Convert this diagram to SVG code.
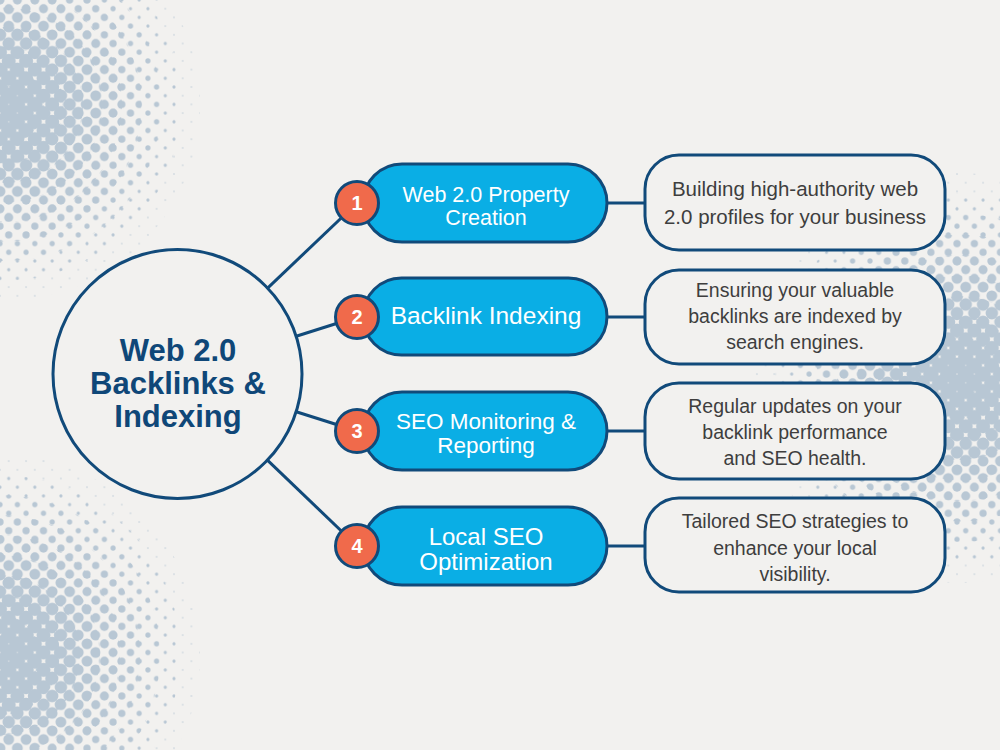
<svg xmlns="http://www.w3.org/2000/svg" width="1000" height="750" viewBox="0 0 1000 750">
<defs>
<style>
.dot{fill:#b8c7d4}
.conn{stroke:#114a7a;stroke-width:3;fill:none}
.pill{fill:#0aaee5;stroke:#114a7a;stroke-width:3}
.badge{fill:#f06a4b;stroke:#114a7a;stroke-width:3}
.box{fill:#f2f1ef;stroke:#114a7a;stroke-width:3}
.ptext{font-family:"Liberation Sans",Arial,sans-serif;fill:#ffffff;text-anchor:middle}
.btext{font-family:"Liberation Sans",Arial,sans-serif;fill:#ffffff;text-anchor:middle;font-weight:bold;font-size:20px}
.dtext{font-family:"Liberation Sans",Arial,sans-serif;fill:#3e3e3e;text-anchor:middle}
.title{font-family:"Liberation Sans",Arial,sans-serif;fill:#0f4778;text-anchor:middle;font-weight:bold;font-size:31px}
</style>
<pattern id="p1" patternUnits="userSpaceOnUse" width="17.4" height="17.4"><g class="dot"><circle cx="0" cy="0" r="8.2"/><circle cx="17.4" cy="0" r="8.2"/><circle cx="0" cy="17.4" r="8.2"/><circle cx="17.4" cy="17.4" r="8.2"/><circle cx="8.7" cy="8.7" r="8.2"/></g></pattern>
<pattern id="p2" patternUnits="userSpaceOnUse" width="17.4" height="17.4"><g class="dot"><circle cx="0" cy="0" r="7.6"/><circle cx="17.4" cy="0" r="7.6"/><circle cx="0" cy="17.4" r="7.6"/><circle cx="17.4" cy="17.4" r="7.6"/><circle cx="8.7" cy="8.7" r="7.6"/></g></pattern>
<pattern id="p3" patternUnits="userSpaceOnUse" width="17.4" height="17.4"><g class="dot"><circle cx="0" cy="0" r="7.0"/><circle cx="17.4" cy="0" r="7.0"/><circle cx="0" cy="17.4" r="7.0"/><circle cx="17.4" cy="17.4" r="7.0"/><circle cx="8.7" cy="8.7" r="7.0"/></g></pattern>
<pattern id="p4" patternUnits="userSpaceOnUse" width="17.4" height="17.4"><g class="dot"><circle cx="0" cy="0" r="6.2"/><circle cx="17.4" cy="0" r="6.2"/><circle cx="0" cy="17.4" r="6.2"/><circle cx="17.4" cy="17.4" r="6.2"/><circle cx="8.7" cy="8.7" r="6.2"/></g></pattern>
<pattern id="p5" patternUnits="userSpaceOnUse" width="17.4" height="17.4"><g class="dot"><circle cx="0" cy="0" r="5.4"/><circle cx="17.4" cy="0" r="5.4"/><circle cx="0" cy="17.4" r="5.4"/><circle cx="17.4" cy="17.4" r="5.4"/><circle cx="8.7" cy="8.7" r="5.4"/></g></pattern>
<pattern id="p6" patternUnits="userSpaceOnUse" width="17.4" height="17.4"><g class="dot"><circle cx="0" cy="0" r="4.5"/><circle cx="17.4" cy="0" r="4.5"/><circle cx="0" cy="17.4" r="4.5"/><circle cx="17.4" cy="17.4" r="4.5"/><circle cx="8.7" cy="8.7" r="4.5"/></g></pattern>
<pattern id="p7" patternUnits="userSpaceOnUse" width="17.4" height="17.4"><g class="dot"><circle cx="0" cy="0" r="3.6"/><circle cx="17.4" cy="0" r="3.6"/><circle cx="0" cy="17.4" r="3.6"/><circle cx="17.4" cy="17.4" r="3.6"/><circle cx="8.7" cy="8.7" r="3.6"/></g></pattern>
<pattern id="p8" patternUnits="userSpaceOnUse" width="17.4" height="17.4"><g class="dot"><circle cx="0" cy="0" r="2.6"/><circle cx="17.4" cy="0" r="2.6"/><circle cx="0" cy="17.4" r="2.6"/><circle cx="17.4" cy="17.4" r="2.6"/><circle cx="8.7" cy="8.7" r="2.6"/></g></pattern>
<pattern id="p9" patternUnits="userSpaceOnUse" width="17.4" height="17.4"><g class="dot"><circle cx="0" cy="0" r="1.6"/><circle cx="17.4" cy="0" r="1.6"/><circle cx="0" cy="17.4" r="1.6"/><circle cx="17.4" cy="17.4" r="1.6"/><circle cx="8.7" cy="8.7" r="1.6"/></g></pattern>
<pattern id="p10" patternUnits="userSpaceOnUse" width="17.4" height="17.4"><g class="dot"><circle cx="0" cy="0" r="0.7"/><circle cx="17.4" cy="0" r="0.7"/><circle cx="0" cy="17.4" r="0.7"/><circle cx="17.4" cy="17.4" r="0.7"/><circle cx="8.7" cy="8.7" r="0.7"/></g></pattern>
</defs>

<rect id="background" x="0" y="0" width="1000" height="750" fill="#f2f1ef"/>

<g id="halftone-top-left">
<circle cx="5" cy="105" r="195" fill="url(#p10)"/>
<circle cx="5" cy="105" r="175.5" fill="url(#p9)"/>
<circle cx="5" cy="105" r="156" fill="url(#p8)"/>
<circle cx="5" cy="105" r="136.5" fill="url(#p7)"/>
<circle cx="5" cy="105" r="117" fill="url(#p6)"/>
<circle cx="5" cy="105" r="97.5" fill="url(#p5)"/>
<circle cx="5" cy="105" r="78" fill="url(#p4)"/>
<circle cx="5" cy="105" r="58.5" fill="url(#p3)"/>
<circle cx="5" cy="105" r="39" fill="url(#p2)"/>
<circle cx="5" cy="105" r="19.5" fill="url(#p1)"/>
</g>
<g id="halftone-bottom-left">
<circle cx="0" cy="655" r="200" fill="url(#p10)"/>
<circle cx="0" cy="655" r="180" fill="url(#p9)"/>
<circle cx="0" cy="655" r="160" fill="url(#p8)"/>
<circle cx="0" cy="655" r="140" fill="url(#p7)"/>
<circle cx="0" cy="655" r="120" fill="url(#p6)"/>
<circle cx="0" cy="655" r="100" fill="url(#p5)"/>
<circle cx="0" cy="655" r="80" fill="url(#p4)"/>
<circle cx="0" cy="655" r="60" fill="url(#p3)"/>
<circle cx="0" cy="655" r="40" fill="url(#p2)"/>
<circle cx="0" cy="655" r="20" fill="url(#p1)"/>
</g>
<g id="halftone-right">
<circle cx="960" cy="378" r="205" fill="url(#p10)"/>
<circle cx="960" cy="378" r="184.5" fill="url(#p9)"/>
<circle cx="960" cy="378" r="164" fill="url(#p8)"/>
<circle cx="960" cy="378" r="143.5" fill="url(#p7)"/>
<circle cx="960" cy="378" r="123" fill="url(#p6)"/>
<circle cx="960" cy="378" r="102.5" fill="url(#p5)"/>
<circle cx="960" cy="378" r="82" fill="url(#p4)"/>
<circle cx="960" cy="378" r="61.5" fill="url(#p3)"/>
<circle cx="960" cy="378" r="41" fill="url(#p2)"/>
<circle cx="960" cy="378" r="20.5" fill="url(#p1)"/>
</g>

<g id="connectors">
<line class="conn" x1="267.6" y1="288.1" x2="357" y2="203"/>
<line class="conn" x1="296.2" y1="336.3" x2="357" y2="317"/>
<line class="conn" x1="296.2" y1="411.7" x2="357" y2="431"/>
<line class="conn" x1="267.4" y1="460.1" x2="357" y2="546"/>
<line class="conn" x1="600" y1="203" x2="647" y2="203"/>
<line class="conn" x1="600" y1="317" x2="647" y2="317"/>
<line class="conn" x1="600" y1="431" x2="647" y2="431"/>
<line class="conn" x1="600" y1="546" x2="647" y2="546"/>
</g>

<g id="center">
<circle cx="177.5" cy="374" r="124.5" fill="#f2f1ef" stroke="#114a7a" stroke-width="3"/>
<text class="title" x="178" y="361">Web 2.0</text>
<text class="title" x="178" y="394">Backlinks &amp;</text>
<text class="title" x="178" y="427">Indexing</text>
</g>

<g id="node1">
<rect class="pill" x="363" y="164" width="244" height="78" rx="39"/>
<text class="ptext" x="486" y="202" font-size="21.5">Web 2.0 Property</text>
<text class="ptext" x="486" y="225" font-size="21.5">Creation</text>
<circle class="badge" cx="357" cy="203" r="21.5"/>
<text class="btext" x="357" y="210">1</text>
</g>
<g id="node2">
<rect class="pill" x="363" y="278" width="244" height="77" rx="38.5"/>
<text class="ptext" x="486" y="324" font-size="24.5">Backlink Indexing</text>
<circle class="badge" cx="357" cy="317" r="21.5"/>
<text class="btext" x="357" y="324">2</text>
</g>
<g id="node3">
<rect class="pill" x="363" y="392" width="244" height="78" rx="39"/>
<text class="ptext" x="486" y="429" font-size="22.5">SEO Monitoring &amp;</text>
<text class="ptext" x="486" y="453" font-size="22.5">Reporting</text>
<circle class="badge" cx="357" cy="431" r="21.5"/>
<text class="btext" x="357" y="438">3</text>
</g>
<g id="node4">
<rect class="pill" x="363" y="507" width="244" height="78" rx="39"/>
<text class="ptext" x="486" y="545" font-size="24">Local SEO</text>
<text class="ptext" x="486" y="570" font-size="24">Optimization</text>
<circle class="badge" cx="357" cy="546" r="21.5"/>
<text class="btext" x="357" y="553">4</text>
</g>

<g id="desc1">
<rect class="box" x="645" y="155" width="300" height="95" rx="34"/>
<text class="dtext" x="795" y="196" font-size="20.5">Building high-authority web</text>
<text class="dtext" x="795" y="224" font-size="20.5">2.0 profiles for your business</text>
</g>
<g id="desc2">
<rect class="box" x="645" y="270" width="300" height="94" rx="34"/>
<text class="dtext" x="795" y="297" font-size="19.5">Ensuring your valuable</text>
<text class="dtext" x="795" y="323" font-size="19.5">backlinks are indexed by</text>
<text class="dtext" x="795" y="349" font-size="19.5">search engines.</text>
</g>
<g id="desc3">
<rect class="box" x="645" y="383" width="300" height="96" rx="34"/>
<text class="dtext" x="795" y="413" font-size="19.5">Regular updates on your</text>
<text class="dtext" x="795" y="439" font-size="19.5">backlink performance</text>
<text class="dtext" x="795" y="465" font-size="19.5">and SEO health.</text>
</g>
<g id="desc4">
<rect class="box" x="645" y="498" width="300" height="94" rx="34"/>
<text class="dtext" x="795" y="528" font-size="19.5">Tailored SEO strategies to</text>
<text class="dtext" x="795" y="555" font-size="19.5">enhance your local</text>
<text class="dtext" x="795" y="581" font-size="19.5">visibility.</text>
</g>
</svg>
